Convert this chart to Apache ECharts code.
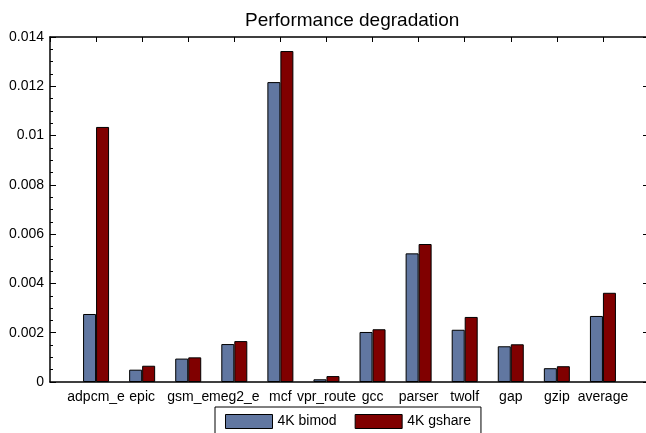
<!DOCTYPE html>
<html>
<head>
<meta charset="utf-8">
<script src="https://cdn.jsdelivr.net/npm/echarts@6/dist/echarts.min.js"></script>
<style>
  html, body { margin: 0; padding: 0; background: #fff; }
  #chart { width: 646px; height: 433px; }
</style>
</head>
<body>
<div id="chart"></div>
<script>
// benchmarks along the x axis
var categories = ["adpcm_e", "epic", "gsm_e", "meg2_e", "mcf", "vpr_route", "gcc", "parser", "twolf", "gap", "gzip", "average"];
// degradation per predictor
var bimod = [0.00276, 0.0005, 0.00095, 0.00154, 0.01217, 0.00011, 0.00203, 0.00522, 0.00212, 0.00145, 0.00056, 0.00268];
var gshare = [0.01035, 0.00066, 0.001, 0.00166, 0.01343, 0.00024, 0.00214, 0.0056, 0.00264, 0.00153, 0.00064, 0.00362];
var seriesNames = ["4K bimod", "4K gshare"];
var yTicks = [0, 0.002, 0.004, 0.006, 0.008, 0.01, 0.012, 0.014];

var font = "Liberation Sans";

function toPoints(arr) {
  return arr.map(function (v, i) { return [i + 1, v]; });
}

var chart = echarts.init(document.getElementById("chart"));

var yBase = {
  type: "value",
  min: yTicks[0],
  max: yTicks[yTicks.length - 1],
  interval: 0.002,
  splitLine: { show: false },
  axisLine: { show: true, onZero: false, lineStyle: { color: "#000", width: 1.5 } },
  axisTick: { show: true, inside: true, length: 6, lineStyle: { color: "#000" } },
  minorTick: { show: true, splitNumber: 4, length: 3, lineStyle: { color: "#000" } }
};

chart.setOption({
  animation: false,
  title: {
    text: "Performance degradation",
    left: 240,
    top: 6,
    textStyle: { fontFamily: font, fontSize: 19, fontWeight: "normal", color: "#000" }
  },
  legend: {
    data: seriesNames,
    left: 215,
    top: 407,
    orient: "horizontal",
    icon: "rect",
    itemWidth: 47,
    itemHeight: 14,
    itemGap: 18,
    padding: [7, 10, 9, 10],
    borderColor: "#000",
    borderWidth: 1,
    itemStyle: { borderColor: "#000", borderWidth: 1 },
    textStyle: { fontFamily: font, fontSize: 14, color: "#000" }
  },
  grid: { left: 50, width: 599, top: 37, bottom: 51, containLabel: false, outerBoundsMode: "none" },
  xAxis: [
    {
      type: "value",
      min: 0,
      max: 13,
      interval: 1,
      position: "bottom",
      splitLine: { show: false },
      axisLine: { onZero: false, lineStyle: { color: "#000", width: 1.5 } },
      axisTick: { show: false },
      axisLabel: {
        margin: 8,
        fontFamily: font,
        fontSize: 14,
        color: "#000",
        formatter: function (v) { return categories[v - 1] || ""; }
      }
    },
    {
      type: "value",
      min: 0,
      max: 13,
      interval: 1,
      position: "top",
      splitLine: { show: false },
      axisLine: { show: true, onZero: false, lineStyle: { color: "#000", width: 1.5 } },
      axisTick: { show: true, inside: true, length: 5, lineStyle: { color: "#000" } },
      axisLabel: { show: false }
    }
  ],
  yAxis: [
    Object.assign({}, yBase, {
      position: "left",
      axisLabel: { margin: 6, fontFamily: font, fontSize: 14, color: "#000" }
    }),
    Object.assign({}, yBase, {
      position: "right",
      axisLabel: { show: false }
    })
  ],
  series: [
    {
      name: seriesNames[0],
      type: "bar",
      data: toPoints(bimod),
      barWidth: 13,
      barGap: "0%",
      itemStyle: { color: "#6177a1", borderColor: "#000", borderWidth: 1 }
    },
    {
      name: seriesNames[1],
      type: "bar",
      data: toPoints(gshare),
      barWidth: 13,
      barGap: "0%",
      itemStyle: { color: "#800000", borderColor: "#000", borderWidth: 1 }
    }
  ]
});
</script>
</body>
</html>
